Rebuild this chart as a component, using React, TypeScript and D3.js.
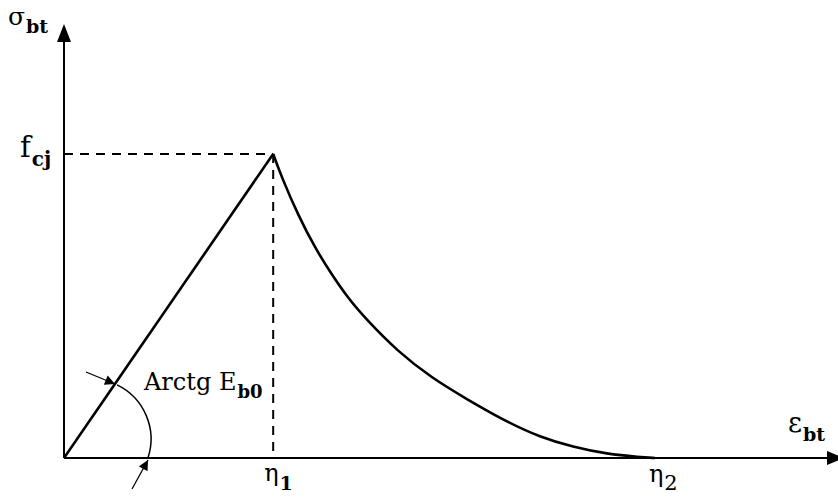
import React, { useRef, useEffect } from "react";
import * as d3 from "d3";

// stress-strain law, normalised: strain / eta1, stress / fcj
const riseStrain = [0, 1];
const riseStress = [0, 1];
const softStrain = [1.0, 1.042, 1.119, 1.2, 1.281, 1.358, 1.439, 1.597, 1.759, 1.917, 2.118, 2.275, 2.433, 2.596, 2.753, 2.825];
const softStress = [1.0, 0.921, 0.799, 0.691, 0.602, 0.526, 0.46, 0.349, 0.263, 0.197, 0.118, 0.069, 0.036, 0.013, 0.003, 0];

const strainMarks = [1, 2.825];
const strainSubs = ["1", "2"];
const peakStress = 1;

const W = 838;
const H = 497;

const Chart = () => {
  const svgRef = useRef<SVGSVGElement | null>(null);

  useEffect(() => {
    const svg = d3.select(svgRef.current);
    svg.selectAll("*").remove();

    const x = d3.scaleLinear().domain([0, 3.7]).range([64, 838]);
    const y = d3.scaleLinear().domain([0, 1.424]).range([458, 25]);

    const font = "'DejaVu Serif', serif";

    const defs = svg.append("defs");
    defs.append("marker")
      .attr("id", "head")
      .attr("viewBox", "0 0 10 10")
      .attr("refX", 10).attr("refY", 5)
      .attr("markerWidth", 11).attr("markerHeight", 10)
      .attr("markerUnits", "userSpaceOnUse")
      .attr("orient", "auto")
      .append("path").attr("d", "M0,0 L10,5 L0,10 Z").attr("fill", "#000");

    svg.append("rect").attr("width", W).attr("height", H).attr("fill", "#fff");

    // axes
    svg.append("line")
      .attr("x1", x(0)).attr("y1", y(0)).attr("x2", x(0)).attr("y2", y(1.424) + 14)
      .attr("stroke", "#000").attr("stroke-width", 2);
    svg.append("path")
      .attr("d", `M${x(0)},${y(1.424) - 1} L${x(0) - 7},${y(1.424) + 17} L${x(0) + 7},${y(1.424) + 17} Z`)
      .attr("fill", "#000");
    svg.append("line")
      .attr("x1", x(0)).attr("y1", y(0)).attr("x2", x(3.7) - 8).attr("y2", y(0))
      .attr("stroke", "#000").attr("stroke-width", 2);
    svg.append("path")
      .attr("d", `M${x(3.7) + 6},${y(0)} L${x(3.7) - 11},${y(0) - 7} L${x(3.7) - 11},${y(0) + 7} Z`)
      .attr("fill", "#000");

    // dashed guides to the peak
    svg.append("line")
      .attr("x1", x(0)).attr("y1", y(peakStress)).attr("x2", x(1)).attr("y2", y(peakStress))
      .attr("stroke", "#000").attr("stroke-width", 2).attr("stroke-dasharray", "9,7");
    svg.append("line")
      .attr("x1", x(1)).attr("y1", y(peakStress)).attr("x2", x(1)).attr("y2", y(0))
      .attr("stroke", "#000").attr("stroke-width", 2).attr("stroke-dasharray", "9,7");

    const line = d3.line<[number, number]>().x(d => x(d[0])).y(d => y(d[1]));

    svg.append("path")
      .attr("d", line(riseStrain.map((s, i) => [s, riseStress[i]] as [number, number])))
      .attr("fill", "none").attr("stroke", "#000").attr("stroke-width", 2.6);

    svg.append("path")
      .attr("d", line.curve(d3.curveBasis)(softStrain.map((s, i) => [s, softStress[i]] as [number, number])))
      .attr("fill", "none").attr("stroke", "#000").attr("stroke-width", 2.6);

    // initial modulus angle arc
    const cx = x(0) + 27;
    const cy = y(0) - 19;
    const r = 60;
    const a0 = Math.atan2(385 - cy, 117 - cx);
    const a1 = Math.atan2(y(0) - cy, Math.sqrt(r * r - (y(0) - cy) ** 2));
    svg.append("path")
      .attr("d", `M${cx + r * Math.cos(a0)},${cy + r * Math.sin(a0)} A${r},${r} 0 0 1 ${cx + r * Math.cos(a1)},${cy + r * Math.sin(a1)}`)
      .attr("fill", "none").attr("stroke", "#000").attr("stroke-width", 1.5);

    svg.append("line")
      .attr("x1", 86).attr("y1", 372).attr("x2", 115).attr("y2", 384)
      .attr("stroke", "#000").attr("stroke-width", 1.3).attr("marker-end", "url(#head)");
    svg.append("line")
      .attr("x1", 132).attr("y1", 489).attr("x2", 148).attr("y2", 460)
      .attr("stroke", "#000").attr("stroke-width", 1.3).attr("marker-end", "url(#head)");

    // labels
    const label = (px: number, py: number, main: string, mainSize: number, sub: string, subSize: number, subDy: number, bold = true) => {
      const t = svg.append("text").attr("x", px).attr("y", py).attr("font-family", font).attr("font-size", mainSize);
      t.append("tspan").text(main);
      t.append("tspan").attr("dx", 1).attr("dy", subDy).attr("font-size", subSize)
        .attr("font-weight", bold ? "bold" : "normal").text(sub);
    };

    label(8, 25, "σ", 25, "bt", 19, 8);
    label(20, 157, "f", 29, "cj", 20, 9);
    label(144, 390, "Arctg E", 24, "b0", 18, 8);
    label(788, 432, "ε", 27, "bt", 19, 9);

    strainMarks.forEach((m, i) => {
      if (i === 0) label(x(m) - 9, 481, "η", 24, strainSubs[i], 19, 9);
      else label(x(m) - 6, 482, "η", 24, strainSubs[i], 21, 8, false);
    });
  }, []);

  return <svg ref={svgRef} width={W} height={H} style={{ position: "absolute", left: 0, top: 0 }} />;
};

export default function App() {
  return <Chart />;
}
